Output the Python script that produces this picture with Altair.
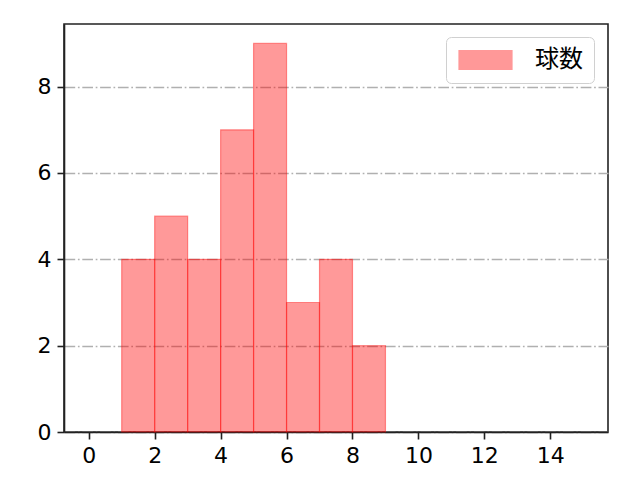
import altair as alt
import pandas as pd

bin_start = [1, 2, 3, 4, 5, 6, 7, 8]
bin_end = [2, 3, 4, 5, 6, 7, 8, 9]
counts = [4, 5, 4, 7, 9, 3, 4, 2]
series = ["球数"] * len(counts)
x_ticks = [0, 2, 4, 6, 8, 10, 12, 14]
y_ticks = [0, 2, 4, 6, 8]

df = pd.DataFrame({"start": bin_start, "end": bin_end, "count": counts, "series": series})

FONT = "Noto Sans CJK JP"
NUMFONT = "DejaVu Sans"

bars = alt.Chart(df).mark_rect(
    fillOpacity=0.4, strokeOpacity=0.4, strokeWidth=1.2
).encode(
    x=alt.X("start:Q", scale=alt.Scale(domain=[-0.75, 15.75], nice=False, zero=False),
            axis=alt.Axis(values=x_ticks, title=None, grid=False, format="d", labelPadding=6)),
    x2="end:Q",
    y=alt.Y("count:Q", scale=alt.Scale(domain=[0, 9.45], nice=False),
            axis=alt.Axis(values=y_ticks, title=None, grid=True, format="d", labelPadding=6,
                          gridColor="#b0b0b0", gridDash=[10.7, 2.7, 1.7, 2.7], gridWidth=1.4)),
    y2=alt.datum(0),
    color=alt.Color("series:N", scale=alt.Scale(range=["#ff0000"]),
                    legend=alt.Legend(title=None, orient="none", legendX=382, legendY=13,
                                      symbolType="M-1,-0.95L4.3,-0.95L4.3,0.95L-1,0.95Z",
                                      symbolSize=400, symbolOpacity=0.4,
                                      symbolStrokeWidth=1.2,
                                      labelFont=FONT, labelFontSize=24, labelOffset=54,
                                      labelColor="#000000",
                                      padding=11, strokeColor="#d0d0d0", cornerRadius=5,
                                      fillColor="white")),
    stroke=alt.Stroke("series:N", scale=alt.Scale(range=["#ff0000"]), legend=None),
)

chart = bars.properties(
    width=544, height=408,
    autosize=alt.AutoSizeParams(type="none"),
    padding={"left": 56, "top": 16, "right": 24, "bottom": 40},
).configure_view(
    stroke="#222222", strokeWidth=1.6
).configure_axis(
    labelFont=NUMFONT, labelFontSize=22, labelColor="#000000",
    domainColor="#222222", domainWidth=1.6,
    tickColor="#222222", tickWidth=1.6, tickSize=7,
)

chart.save("out.html", embed_options={"renderer": "svg", "actions": False})
